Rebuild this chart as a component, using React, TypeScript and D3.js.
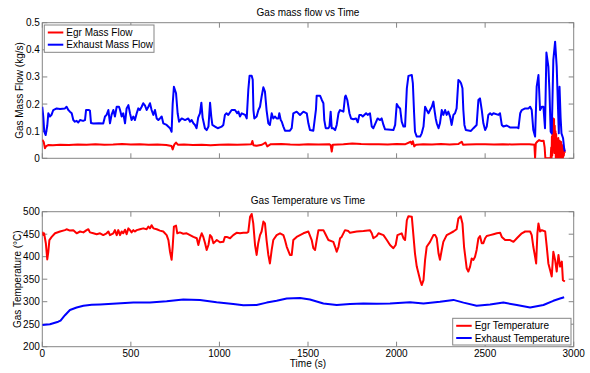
import React from 'react';
import * as d3 from 'd3';

// ---------- DATA ----------
const xTicks = [0, 500, 1000, 1500, 2000, 2500, 3000];
const flowTicks = [0, 0.1, 0.2, 0.3, 0.4, 0.5];
const tempTicks = [200, 250, 300, 350, 400, 450, 500];

const exhFlowT = [0,6,11,19,28,34,43,52,62,81,100,128,137,147,156,166,175,184,194,203,213,230,241,247,262,269,275,288,320,344,354,363,373,382,391,401,410,420,433,439,448,457,467,476,486,495,504,514,523,533,542,551,561,570,580,589,599,608,617,627,636,646,655,664,674,683,702,721,730,736,743,755,764,772,787,806,824,834,843,853,862,871,880,890,898,905,912,918,928,938,947,954,960,975,990,1013,1022,1031,1040,1050,1069,1088,1100,1107,1116,1126,1145,1154,1163,1170,1182,1188,1192,1197,1210,1220,1229,1238,1248,1257,1266,1276,1285,1295,1304,1314,1323,1333,1338,1346,1352,1361,1370,1398,1408,1417,1436,1455,1474,1493,1502,1511,1530,1545,1549,1568,1578,1587,1592,1600,1615,1621,1628,1634,1643,1653,1662,1672,1681,1700,1709,1713,1722,1734,1743,1756,1771,1781,1790,1800,1809,1828,1837,1850,1860,1869,1885,1893,1907,1916,1926,1935,1982,1992,2001,2010,2020,2029,2039,2048,2058,2067,2086,2092,2099,2104,2114,2133,2142,2152,2161,2170,2180,2189,2199,2208,2214,2221,2227,2237,2245,2255,2264,2274,2283,2292,2302,2311,2321,2330,2339,2349,2358,2364,2372,2377,2383,2391,2420,2434,2452,2462,2471,2481,2490,2500,2509,2518,2528,2537,2547,2575,2584,2594,2603,2622,2640,2679,2688,2698,2707,2726,2745,2754,2763,2772,2782,2791,2801,2810,2820,2829,2838,2846,2857,2863,2870,2876,2885,2895,2904,2910,2916,2920,2926,2931,2940,2946,2950];
const exhFlowV = [0.19,0.15,0.098,0.086,0.12,0.166,0.154,0.16,0.178,0.184,0.182,0.184,0.19,0.178,0.172,0.166,0.141,0.135,0.138,0.132,0.141,0.138,0.141,0.178,0.178,0.176,0.13,0.128,0.129,0.128,0.154,0.16,0.178,0.129,0.16,0.178,0.154,0.19,0.19,0.178,0.154,0.166,0.129,0.184,0.196,0.166,0.141,0.154,0.141,0.166,0.184,0.178,0.19,0.203,0.194,0.178,0.19,0.203,0.178,0.16,0.178,0.147,0.141,0.147,0.154,0.129,0.123,0.111,0.098,0.2,0.264,0.24,0.166,0.135,0.147,0.141,0.147,0.135,0.141,0.129,0.123,0.111,0.15,0.166,0.205,0.15,0.129,0.111,0.104,0.117,0.205,0.154,0.123,0.117,0.111,0.117,0.123,0.16,0.166,0.16,0.178,0.178,0.166,0.172,0.154,0.166,0.16,0.147,0.252,0.304,0.304,0.29,0.178,0.147,0.154,0.178,0.19,0.227,0.262,0.246,0.178,0.129,0.123,0.166,0.147,0.154,0.147,0.147,0.166,0.141,0.135,0.117,0.102,0.102,0.111,0.166,0.172,0.16,0.172,0.166,0.129,0.104,0.102,0.18,0.231,0.231,0.215,0.203,0.141,0.111,0.111,0.117,0.172,0.111,0.111,0.104,0.123,0.166,0.178,0.172,0.227,0.231,0.215,0.166,0.147,0.144,0.147,0.133,0.16,0.16,0.154,0.166,0.16,0.166,0.117,0.111,0.135,0.147,0.141,0.147,0.123,0.107,0.104,0.123,0.2,0.19,0.184,0.135,0.117,0.117,0.258,0.304,0.307,0.276,0.166,0.098,0.08,0.08,0.092,0.117,0.19,0.178,0.166,0.178,0.19,0.209,0.178,0.147,0.129,0.111,0.129,0.178,0.16,0.178,0.16,0.172,0.154,0.123,0.16,0.166,0.184,0.289,0.283,0.277,0.258,0.178,0.123,0.104,0.101,0.111,0.123,0.215,0.221,0.178,0.129,0.104,0.117,0.16,0.166,0.16,0.166,0.16,0.166,0.123,0.117,0.121,0.114,0.114,0.111,0.166,0.178,0.184,0.184,0.19,0.178,0.104,0.08,0.264,0.307,0.178,0.19,0.19,0.111,0.39,0.338,0.25,0.098,0.092,0.363,0.43,0.338,0.215,0.092,0.264,0.15,0.092,0.074,0.037,0.025];

const egrFlowT = [0,8,15,22,35,60,100,150,200,250,300,350,400,450,500,550,600,650,700,730,736,745,755,765,800,850,900,950,1000,1050,1100,1150,1180,1186,1192,1210,1240,1260,1270,1290,1350,1400,1450,1500,1560,1620,1628,1634,1640,1700,1750,1800,1850,1900,1950,2000,2050,2080,2086,2092,2100,2110,2150,2200,2250,2300,2350,2368,2375,2400,2450,2500,2550,2600,2650,2700,2750,2778,2782,2786,2795,2805,2815,2830,2836,2840,2870,2873,2875,2877,2879,2881,2883,2885,2887,2889,2891,2893,2895,2897,2899,2901,2903,2905,2907,2909,2911,2913,2915,2917,2919,2921,2923,2925,2927,2929,2931,2933,2935,2937,2939,2941,2944,2947,2950];
const egrFlowV = [0.068,0.06,0.037,0.045,0.049,0.048,0.05,0.049,0.051,0.05,0.052,0.05,0.051,0.053,0.051,0.052,0.05,0.051,0.049,0.045,0.033,0.05,0.058,0.05,0.051,0.049,0.05,0.048,0.05,0.051,0.05,0.051,0.052,0.064,0.048,0.046,0.05,0.058,0.044,0.052,0.053,0.051,0.05,0.052,0.051,0.052,0.049,0.025,0.05,0.052,0.055,0.053,0.052,0.052,0.051,0.053,0.052,0.061,0.052,0.063,0.044,0.05,0.052,0.051,0.053,0.051,0.053,0.061,0.05,0.051,0.052,0.052,0.051,0.052,0.051,0.052,0.052,0.05,0.0,0.055,0.062,0.067,0.064,0.065,0.04,0.0,0.0,0.04,0.0,0.08,0.01,0.13,0.03,0.147,0.05,0.145,0.02,0.12,0.06,0.1,0.0,0.09,0.02,0.07,0.0,0.06,0.01,0.075,0.0,0.05,0.02,0.065,0.0,0.055,0.01,0.06,0.0,0.05,0.015,0.045,0.0,0.035,0.01,0.03,0.02];

const egrTempT = [0,5,10,20,28,34,40,53,72,100,128,137,156,175,194,213,232,250,260,269,288,307,326,344,363,373,382,401,410,420,429,439,448,457,467,476,486,495,504,514,523,533,551,570,589,599,608,617,627,646,664,683,702,712,721,730,736,743,755,762,777,796,815,834,853,872,881,890,900,909,919,928,938,947,956,966,975,985,1003,1022,1031,1041,1060,1078,1097,1116,1135,1154,1163,1173,1182,1191,1201,1210,1219,1229,1238,1248,1257,1266,1276,1285,1295,1304,1323,1342,1361,1370,1380,1398,1408,1417,1436,1474,1502,1521,1530,1540,1549,1559,1587,1596,1615,1643,1653,1662,1672,1681,1690,1709,1728,1737,1775,1813,1850,1860,1869,1888,1898,1926,1945,1963,1982,1995,2005,2029,2039,2048,2058,2067,2086,2095,2104,2114,2133,2142,2152,2161,2170,2189,2208,2218,2227,2237,2245,2255,2264,2283,2302,2321,2339,2349,2362,2372,2381,2396,2405,2415,2424,2434,2443,2452,2462,2471,2481,2490,2500,2509,2528,2547,2566,2585,2594,2613,2641,2660,2679,2707,2726,2754,2763,2772,2782,2788,2795,2801,2810,2820,2839,2848,2857,2867,2876,2885,2895,2904,2914,2923,2933,2939,2950];
const egrTempV = [455.6,448,452,430,394,411,437,444,452,456,459,461,458,459,452,456,454,459,461,454,452,450,452,448,452,456,448,452,459,448,459,448,456,452,460,450,463,459,454,459,456,459,461,463,461,467,463,470,463,461,458,456,448,437,411,393,422,467,469,452,454,451,452,448,444,441,426,441,452,444,430,415,426,448,444,430,433,437,432,433,444,444,441,448,453,452,453,453,455,489,495,474,426,404,430,448,456,478,474,437,404,385,415,437,448,452,448,437,422,404,404,437,444,452,456,437,419,415,437,459,459,452,437,433,422,411,422,441,444,459,457,453,456,457,459,452,441,446,452,448,437,426,419,426,448,452,441,437,481,490,489,448,407,378,348,337,348,393,422,433,448,448,441,407,393,415,433,448,452,456,461,485,490,474,422,374,367,378,396,393,400,415,441,446,430,430,441,446,448,450,452,453,444,437,437,433,441,452,456,456,448,422,400,385,452,474,456,459,456,422,385,370,356,411,393,367,404,378,389,348,345];

const exhTempT = [0,43,90,103,128,156,194,232,279,326,420,514,608,702,796,890,984,1078,1135,1210,1267,1323,1380,1455,1511,1587,1662,1737,1813,1888,1963,2076,2152,2245,2321,2378,2452,2528,2603,2679,2754,2829,2885,2923,2946];
const exhTempV = [248,250,255.6,258,270,281.6,287,291,293,294,296,298,298,301,305,304,299,295,292,292.6,298,302,307,308,305,296,292.6,295,296,295.5,296,298.6,296,300,304,298,291,294,298,292.6,287,292.6,302,307,310];

const topLegend = ['Egr Mass Flow', 'Exhaust Mass Flow'];
const bottomLegend = ['Egr Temperature', 'Exhaust Temperature'];

// ---------- LAYOUT ----------
const W = 590, H = 373;
const L = 42.3, R = 573.7;
const T1 = 22.7, B1 = 158.3;
const T2 = 211.7, B2 = 346.7;
const FONT = '"Liberation Sans", Arial, Helvetica, sans-serif';
const RED = '#ff0000', BLUE = '#0000ff', AX = '#858585';
const TL = 5;

const x = d3.scaleLinear().domain([0, 3000]).range([L, R]);
const y1 = d3.scaleLinear().domain([0, 0.5]).range([B1, T1]);
const y2 = d3.scaleLinear().domain([200, 500]).range([B2, T2]);

function mkLine(ts: number[], vs: number[], y: d3.ScaleLinear<number, number>) {
  const pts: [number, number][] = ts.map((t, i) => [t, vs[i]]);
  return d3.line<[number, number]>().x(d => x(d[0])).y(d => y(d[1]))(pts) || '';
}

function Axes({ y, ticks, top, bottom, fmt, showX }: any) {
  return (
    <g>
      <rect x={L} y={top} width={R - L} height={bottom - top} fill="none" stroke={AX} strokeWidth={1} />
      {xTicks.map(t => (
        <g key={'x' + t}>
          <line x1={x(t)} x2={x(t)} y1={bottom} y2={bottom - TL} stroke={AX} />
          <line x1={x(t)} x2={x(t)} y1={top} y2={top + TL} stroke={AX} />
          {showX && (
            <text x={x(t)} y={bottom + 10} textAnchor="middle" fontSize={10} fontFamily={FONT}>{t}</text>
          )}
        </g>
      ))}
      {ticks.map((v: number) => (
        <g key={'y' + v}>
          <line x1={L} x2={L + TL} y1={y(v)} y2={y(v)} stroke={AX} />
          <line x1={R} x2={R - TL} y1={y(v)} y2={y(v)} stroke={AX} />
          <text x={L - 2.5} y={y(v) + 3.5} textAnchor="end" fontSize={10} fontFamily={FONT}>{fmt(v)}</text>
        </g>
      ))}
    </g>
  );
}

function Legend({ x0, y0, w, h, labels }: any) {
  const colors = [RED, BLUE];
  return (
    <g>
      <rect x={x0} y={y0} width={w} height={h} fill="#fff" stroke={AX} />
      {labels.map((lab: string, i: number) => {
        const cy = y0 + 7.5 + i * 12.2;
        return (
          <g key={lab}>
            <line x1={x0 + 3.5} x2={x0 + 19} y1={cy} y2={cy} stroke={colors[i]} strokeWidth={2} />
            <text x={x0 + 22} y={cy + 3.5} fontSize={10} fontFamily={FONT}>{lab}</text>
          </g>
        );
      })}
    </g>
  );
}

export default function App() {
  return (
    <svg width={W} height={H} style={{ position: 'absolute', left: 0, top: 0, background: '#fff' }}>
      <rect width={W} height={H} fill="#fff" />
      {/* top chart */}
      <text x={(L + R) / 2} y={15.5} textAnchor="middle" fontSize={10} fontFamily={FONT}>Gas mass flow vs Time</text>
      <Axes y={y1} ticks={flowTicks} top={T1} bottom={B1} fmt={(v: number) => (v === 0 ? '0' : String(v))} showX={false} />
      <clipPath id="c1"><rect x={L} y={T1} width={R - L} height={B1 - T1} /></clipPath>
      <g clipPath="url(#c1)">
        <path d={mkLine(egrFlowT, egrFlowV, y1)} fill="none" stroke={RED} strokeWidth={2} strokeLinejoin="round" />
        <path d={mkLine(exhFlowT, exhFlowV, y1)} fill="none" stroke={BLUE} strokeWidth={2} strokeLinejoin="round" />
      </g>
      <Legend x0={44.3} y0={25} w={109.7} h={27.3} labels={topLegend} />
      <text transform={`translate(23,${(T1 + B1) / 2}) rotate(-90)`} textAnchor="middle" fontSize={10} fontFamily={FONT}>Gas Mass Flow (kg/s)</text>

      {/* bottom chart */}
      <text x={(L + R) / 2} y={204} textAnchor="middle" fontSize={10} fontFamily={FONT}>Gas Temperature vs Time</text>
      <Axes y={y2} ticks={tempTicks} top={T2} bottom={B2} fmt={(v: number) => String(v)} showX={true} />
      <clipPath id="c2"><rect x={L} y={T2} width={R - L} height={B2 - T2} /></clipPath>
      <g clipPath="url(#c2)">
        <path d={mkLine(egrTempT, egrTempV, y2)} fill="none" stroke={RED} strokeWidth={2} strokeLinejoin="round" />
        <path d={mkLine(exhTempT, exhTempV, y2)} fill="none" stroke={BLUE} strokeWidth={2} strokeLinejoin="round" />
      </g>
      <Legend x0={452.7} y0={318.3} w={118.3} h={26.7} labels={bottomLegend} />
      <text transform={`translate(21,${(T2 + B2) / 2}) rotate(-90)`} textAnchor="middle" fontSize={10} fontFamily={FONT}>Gas Temperature (°C)</text>
      <text x={(L + R) / 2} y={367} textAnchor="middle" fontSize={10} fontFamily={FONT}>Time (s)</text>
    </svg>
  );
}
